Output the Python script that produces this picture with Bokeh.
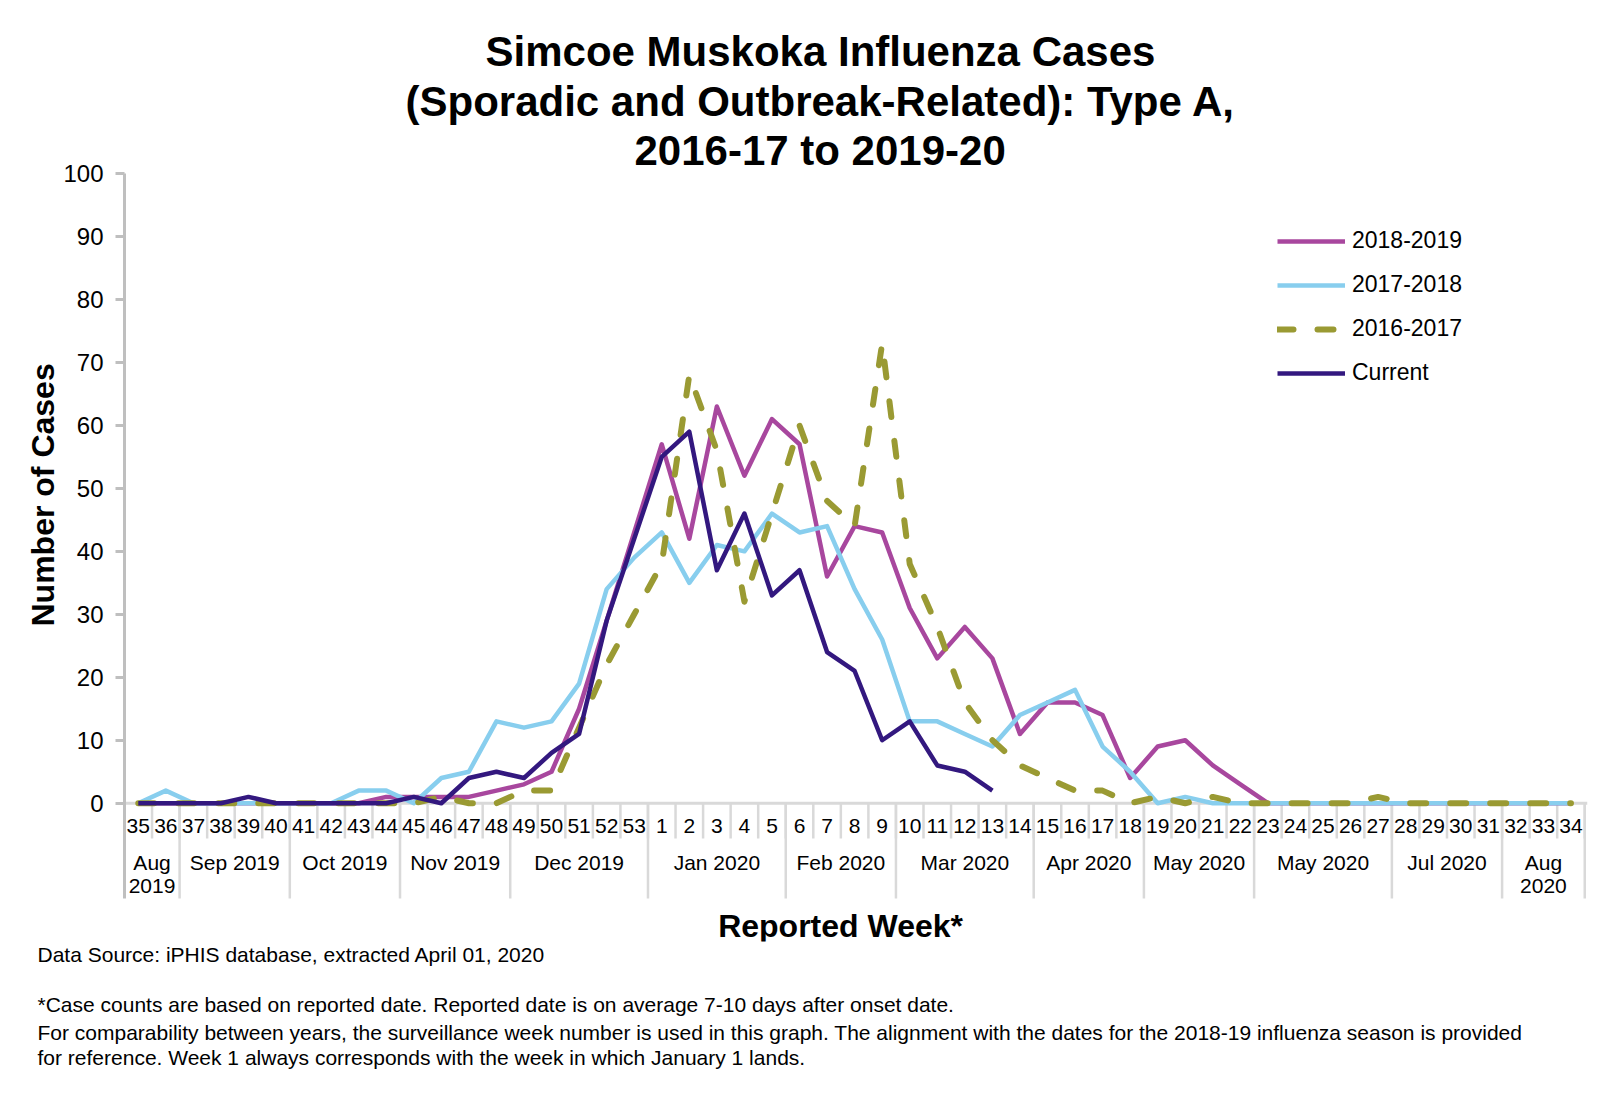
import math
from bokeh.plotting import figure
from bokeh.models import Range1d, FixedTicker, Span, Legend, LegendItem, Title
from bokeh.core.properties import value
from bokeh.embed import file_html
from bokeh.resources import INLINE

# ---------------- data ----------------
weeks = [str(w) for w in range(35, 54)] + [str(w) for w in range(1, 35)]

months = ["Aug\n2019", "Sep 2019", "Oct 2019", "Nov 2019", "Dec 2019", "Jan 2020",
          "Feb 2020", "Mar 2020", "Apr 2020", "May 2020", "May 2020", "Jul 2020", "Aug\n2020"]
month_weeks = [2, 4, 4, 4, 5, 5, 4, 5, 4, 4, 5, 4, 3]

# weeks 35..53, then 1..34
season_2018_19 = [0, 0, 0, 0, 0, 0, 0, 0, 0, 1, 1, 1, 1, 2, 3, 5, 15, 29, 43,
                  57, 42, 63, 52, 61, 57, 36, 44, 43, 31, 23, 28, 23, 11, 16, 16, 14, 4,
                  9, 10, 6, 3, 0, 0, 0, 0, 0, 0, 0, 0, 0, 0, 0, 0]
season_2017_18 = [0, 2, 0, 0, 0, 0, 0, 0, 2, 2, 0, 4, 5, 13, 12, 13, 19, 34, 39,
                  43, 35, 41, 40, 46, 43, 44, 34, 26, 13, 13, 11, 9, 14, 16, 18, 9, 5,
                  0, 1, 0, 0, 0, 0, 0, 0, 0, 0, 0, 0, 0, 0, 0, 0]
season_2016_17 = [0, 0, 0, 0, 0, 0, 0, 0, 0, 0, 0, 1, 0, 0, 2, 2, 12, 22, 30,
                  38, 68, 56, 32, 46, 60, 48, 44, 73, 38, 28, 16, 10, 6, 4, 2, 2, 0,
                  1, 0, 1, 0, 0, 0, 0, 0, 1, 0, 0, 0, 0, 0, 0, 0]
current = [0, 0, 0, 0, 1, 0, 0, 0, 0, 0, 1, 0, 4, 5, 4, 8, 11, 29, 42,
           55, 59, 37, 46, 33, 37, 24, 21, 10, 13, 6, 5, 2]

series_names = ["2018-2019", "2017-2018", "2016-2017", "Current"]
y_ticks = list(range(0, 101, 10))

title_lines = ["Simcoe Muskoka Influenza Cases",
               "(Sporadic and Outbreak-Related): Type A,",
               "2016-17 to 2019-20"]
x_title = "Reported Week*"
y_title = "Number of Cases"
footnotes = ["Data Source: iPHIS database, extracted April 01, 2020",
             "*Case counts are based on reported date. Reported date is on average 7-10 days after onset date.",
             "For comparability between years, the surveillance week number is used in this graph. The alignment with the dates for the 2018-19 influenza season is provided",
             "for reference. Week 1 always corresponds with the week in which January 1 lands."]

# ---------------- styling ----------------
FONT = "Liberation Sans"
C_MAG = "#A8479E"
C_BLUE = "#88CEEE"
C_OLIVE = "#9A9A33"
C_DARK = "#33187F"
GRID_GRAY = "#D9D9D9"
AXIS_GRAY = "#BFBFBF"
BLACK = "#000000"

n = len(weeks)
xs = list(range(n))
current_full = current + [float("nan")] * (n - len(current))

Y_SEP = -15.13      # bottom of the category separators
Y_BOTTOM = -21.96   # bottom of the frame (room for the x title)
p = figure(width=1608, height=1103,
           x_range=Range1d(-0.5, n - 0.4), y_range=Range1d(Y_BOTTOM, 100),
           x_axis_location=None, y_axis_location="left",
           output_backend="svg", toolbar_location=None,
           min_border_left=124, min_border_right=21,
           min_border_top=173, min_border_bottom=162)
p.grid.visible = False
p.outline_line_color = None
p.background_fill_color = "white"
p.border_fill_color = "white"

yax = p.yaxis[0]
yax.ticker = FixedTicker(ticks=y_ticks)
yax.bounds = (Y_SEP, 100)
yax.axis_line_color = AXIS_GRAY
yax.axis_line_width = 3
yax.major_tick_line_color = AXIS_GRAY
yax.major_tick_line_width = 3
yax.major_tick_in = 0
yax.major_tick_out = 9
yax.minor_tick_line_color = None
yax.major_label_standoff = 12
yax.major_label_text_font = FONT
yax.major_label_text_font_size = "24px"
yax.major_label_text_color = BLACK

# y axis title (left panel, starting 315px above the frame bottom)
p.add_layout(Title(text=y_title, align="left", offset=315, standoff=0,
                   text_font=FONT, text_font_size="32px", text_font_style="bold",
                   text_color=BLACK), "left")

# footnotes (two paragraphs)
para_a = footnotes[0] + "\n\n" + footnotes[1]
para_b = footnotes[2] + "\n" + footnotes[3]
for txt, so, lh in ((para_a, 0, 1.09), (para_b, 6, 1.10)):
    p.add_layout(Title(text=txt, align="left", offset=-87, standoff=so,
                       text_font=FONT, text_font_size="21px", text_font_style="normal",
                       text_line_height=lh, text_color=BLACK), "below")

# chart title (first added sits closest to the frame); left offsets centre each line near x=819
title_offsets = [361, 281, 510]
title_standoffs = [1, 0, 0]
for i in (2, 1, 0):
    p.add_layout(Title(text=title_lines[i], align="left", offset=title_offsets[i],
                       standoff=title_standoffs[i], text_font=FONT, text_font_size="42px",
                       text_font_style="bold", text_color=BLACK), "above")

# baseline of category axis
p.add_layout(Span(location=0, dimension="width", line_color=GRID_GRAY,
                  line_width=3, level="underlay"))

# category separators
SHORT_BOTTOM = -5.6
short_x = [k - 0.5 for k in range(1, n + 1)]
p.segment(x0=short_x, y0=[0] * len(short_x), x1=short_x, y1=[SHORT_BOTTOM] * len(short_x),
          line_color=GRID_GRAY, line_width=2.5)
bounds = [0]
for c in month_weeks:
    bounds.append(bounds[-1] + c)
long_x = [b - 0.5 for b in bounds[1:]]
p.segment(x0=long_x, y0=[0] * len(long_x), x1=long_x, y1=[Y_SEP] * len(long_x),
          line_color=GRID_GRAY, line_width=2.5)

# week labels
p.text(x=xs, y=[-3.67] * n, text=weeks, text_font=value(FONT), text_font_size="21px",
       text_align="center", text_baseline="middle", text_color=BLACK)

# month labels
m_centers = [(bounds[i] + bounds[i + 1] - 1) / 2 for i in range(len(months))]
first_lines = [m.split("\n")[0] for m in months]
p.text(x=m_centers, y=[-9.37] * len(months), text=first_lines, text_font=value(FONT),
       text_font_size="21px", text_align="center", text_baseline="middle", text_color=BLACK)
sec_x = [m_centers[i] for i, m in enumerate(months) if "\n" in m]
sec_t = [m.split("\n")[1] for m in months if "\n" in m]
p.text(x=sec_x, y=[-13.1] * len(sec_x), text=sec_t, text_font=value(FONT),
       text_font_size="21px", text_align="center", text_baseline="middle", text_color=BLACK)

# x axis title
p.text(x=[25.49], y=[-19.42], text=[x_title], text_font=value(FONT), text_font_size="32px",
       text_font_style="bold", text_align="center", text_baseline="middle", text_color=BLACK)

# series
r1 = p.line(xs, season_2018_19, line_color=C_MAG, line_width=4.5, line_join="round")
r2 = p.line(xs, season_2017_18, line_color=C_BLUE, line_width=4.5, line_join="round")
r3 = p.line(xs, season_2016_17, line_color=C_OLIVE, line_width=6, line_dash="16 24",
            line_cap="round", line_join="round")
r4 = p.line(xs, current_full, line_color=C_DARK, line_width=4.5, line_join="round")

legend = Legend(items=[LegendItem(label=series_names[0], renderers=[r1]),
                       LegendItem(label=series_names[1], renderers=[r2]),
                       LegendItem(label=series_names[2], renderers=[r3]),
                       LegendItem(label=series_names[3], renderers=[r4])],
                location=(1153, 555), orientation="vertical",
                glyph_width=68, glyph_height=26, label_height=26, spacing=17,
                padding=0, margin=0, label_standoff=7,
                label_text_font=FONT, label_text_font_size="23px", label_text_color=BLACK,
                border_line_color=None, background_fill_alpha=0)
p.add_layout(legend)

open("out.html", "w").write(file_html(p, INLINE))
